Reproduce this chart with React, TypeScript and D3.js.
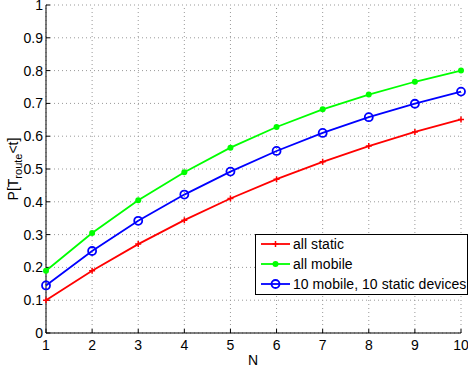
import React from "react";
import * as d3 from "d3";

const nValues = [1, 2, 3, 4, 5, 6, 7, 8, 9, 10];
const allStatic = [0.1, 0.19, 0.271, 0.344, 0.41, 0.469, 0.522, 0.57, 0.613, 0.651];
const allMobile = [0.19, 0.305, 0.405, 0.49, 0.565, 0.628, 0.682, 0.727, 0.766, 0.8];
const mixed = [0.145, 0.25, 0.342, 0.422, 0.492, 0.555, 0.61, 0.658, 0.699, 0.736];
const xTicks = [1, 2, 3, 4, 5, 6, 7, 8, 9, 10];
const yTicks = [0, 0.1, 0.2, 0.3, 0.4, 0.5, 0.6, 0.7, 0.8, 0.9, 1];
const legendLabels = ["all static", "all mobile", "10 mobile, 10 static devices"];

export default function App() {
  const W = 468, H = 371;
  const x = d3.scaleLinear().domain([1, 10]).range([46, 461]);
  const y = d3.scaleLinear().domain([0, 1]).range([333, 5]);
  const line = d3.line<number>().x((_, i) => x(nValues[i])).y((v) => y(v));
  const font = "'Liberation Sans', Arial, sans-serif";
  const series = [
    { data: allStatic, color: "#ff0000", marker: "plus" },
    { data: allMobile, color: "#00ff00", marker: "dot" },
    { data: mixed, color: "#0000ff", marker: "circle" },
  ];
  const marker = (m: string, cx: number, cy: number, color: string, key: any) => {
    if (m === "plus")
      return (
        <path key={key} d={`M${cx - 3},${cy}H${cx + 3}M${cx},${cy - 3}V${cy + 3}`} stroke={color} strokeWidth={1.5} />
      );
    if (m === "dot") return <circle key={key} cx={cx} cy={cy} r={3} fill={color} />;
    return <circle key={key} cx={cx} cy={cy} r={4} fill="none" stroke={color} strokeWidth={1.8} />;
  };
  return (
    <svg width={W} height={H} style={{ position: "absolute", left: 0, top: 0, background: "#fff" }} fontFamily={font}>
      <rect x={0} y={0} width={W} height={H} fill="#fff" />
      {/* grid */}
      {xTicks.map((t) => (
        <line key={"gx" + t} x1={x(t)} x2={x(t)} y1={y(0)} y2={y(1)} stroke="#999" strokeDasharray="1,3" />
      ))}
      {yTicks.map((t) => (
        <line key={"gy" + t} x1={x(1)} x2={x(10)} y1={y(t)} y2={y(t)} stroke="#999" strokeDasharray="1,3" />
      ))}
      {/* axes */}
      <line x1={x(1)} x2={x(1)} y1={y(0)} y2={y(1)} stroke="#000" strokeWidth={1} />
      <line x1={x(1)} x2={x(10)} y1={y(0)} y2={y(0)} stroke="#000" strokeWidth={1} />
      {xTicks.map((t) => (
        <g key={"tx" + t}>
          <line x1={x(t)} x2={x(t)} y1={y(0)} y2={y(0) - 4} stroke="#000" />
          <text x={x(t)} y={y(0) + 17} fontSize={14} textAnchor="middle">{t}</text>
        </g>
      ))}
      {yTicks.map((t) => (
        <g key={"ty" + t}>
          <line x1={x(1)} x2={x(1) + 4} y1={y(t)} y2={y(t)} stroke="#000" />
          <text x={x(1) - 3} y={y(t) + 5} fontSize={14} textAnchor="end">{String(t)}</text>
        </g>
      ))}
      {/* series */}
      {series.map((s, si) => (
        <g key={"s" + si}>
          <path d={line(s.data) || ""} fill="none" stroke={s.color} strokeWidth={1.8} />
          {s.data.map((v, i) => marker(s.marker, x(nValues[i]), y(v), s.color, i))}
        </g>
      ))}
      {/* labels */}
      <text x={253} y={365} fontSize={14} textAnchor="middle">N</text>
      <text transform="translate(18,169) rotate(-90)" fontSize={14} textAnchor="middle">
        P[T<tspan fontSize={11} dy={4}>route</tspan><tspan dy={-4}>&lt;t]</tspan>
      </text>
      {/* legend */}
      <rect x={255.5} y={234.5} width={212} height={60} fill="#fff" stroke="#000" strokeWidth={1} />
      {series.map((s, i) => {
        const cy = 244 + i * 20;
        return (
          <g key={"l" + i}>
            <line x1={261} x2={290} y1={cy} y2={cy} stroke={s.color} strokeWidth={1.8} />
            {marker(s.marker, 275.5, cy, s.color, "m")}
            <text x={293} y={cy + 5} fontSize={14} letterSpacing={0.05}>{legendLabels[i]}</text>
          </g>
        );
      })}
    </svg>
  );
}
